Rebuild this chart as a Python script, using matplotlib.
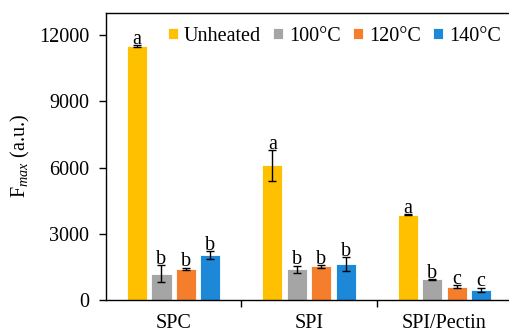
import numpy as np
import matplotlib
matplotlib.use('Agg')
import matplotlib.pyplot as plt
from matplotlib.patches import Patch

plt.rcParams['font.family'] = ['Liberation Serif', 'DejaVu Serif']
plt.rcParams['mathtext.fontset'] = 'custom'
plt.rcParams['mathtext.rm'] = 'Liberation Serif'
plt.rcParams['mathtext.it'] = 'Liberation Serif:italic'

categories = ['SPC', 'SPI', 'SPI/Pectin']
series = ['Unheated', '100°C', '120°C', '140°C']
colors = ['#FFC000', '#A5A5A5', '#F47E2C', '#1E88D8']

unheated = [11500, 6100, 3870]
t100 = [1200, 1390, 930]
t120 = [1410, 1520, 600]
t140 = [2040, 1640, 465]

err_unheated = [50, 700, 30]
err_100 = [370, 170, 30]
err_120 = [50, 60, 60]
err_140 = [170, 310, 100]

letters_unheated = ['a', 'a', 'a']
letters_100 = ['b', 'b', 'b']
letters_120 = ['b', 'b', 'c']
letters_140 = ['b', 'b', 'c']

values = [unheated, t100, t120, t140]
errors = [err_unheated, err_100, err_120, err_140]
letters = [letters_unheated, letters_100, letters_120, letters_140]

fig = plt.figure(figsize=(5.1, 3.33), dpi=100)
ax = fig.add_axes([0.208, 0.099, 0.796, 0.862])

x = np.arange(len(categories))
width = 0.148
step = 0.181
for i in range(len(series)):
  pos = x + (i - 1.5) * step
  ax.bar(pos, values[i], width, color=colors[i], edgecolor='white', linewidth=0.6, zorder=2)
  ax.errorbar(pos, values[i], yerr=errors[i], fmt='none', ecolor='black',
              elinewidth=1, capsize=3.2, capthick=1, zorder=3)
  for j in range(len(categories)):
    ax.text(pos[j], values[i][j] + errors[i][j] + 60, letters[i][j],
            ha='center', va='baseline', fontsize=14.5, zorder=4)

ax.set_xlim(-0.5, 2.5)
ax.set_ylim(0, 13000)
ax.set_yticks([0, 3000, 6000, 9000, 12000])
ax.tick_params(axis='y', labelsize=14.5, direction='out', length=5, width=1, pad=7)
ax.set_xticks(x)
ax.set_xticklabels(categories, fontsize=14.5)
ax.tick_params(axis='x', length=0, pad=10)
ax.set_xticks([0.5, 1.5], minor=True)
ax.tick_params(axis='x', which='minor', length=5, width=1, direction='out')
ax.spines['right'].set_visible(False)
for s in ['left', 'bottom', 'top']:
  ax.spines[s].set_linewidth(1)

ax.set_ylabel('F$_{max}$ (a.u.)', fontsize=14.5, labelpad=5)

handles = [Patch(facecolor=c, edgecolor='white', linewidth=0.6) for c in colors]
ax.legend(handles, series, loc='upper left', bbox_to_anchor=(0.122, 0.995), ncol=4,
          frameon=False, fontsize=14.5, handlelength=0.5, handleheight=0.5,
          handletextpad=0.3, columnspacing=0.6, borderaxespad=0.2)

fig.savefig('out.png', dpi=100)
